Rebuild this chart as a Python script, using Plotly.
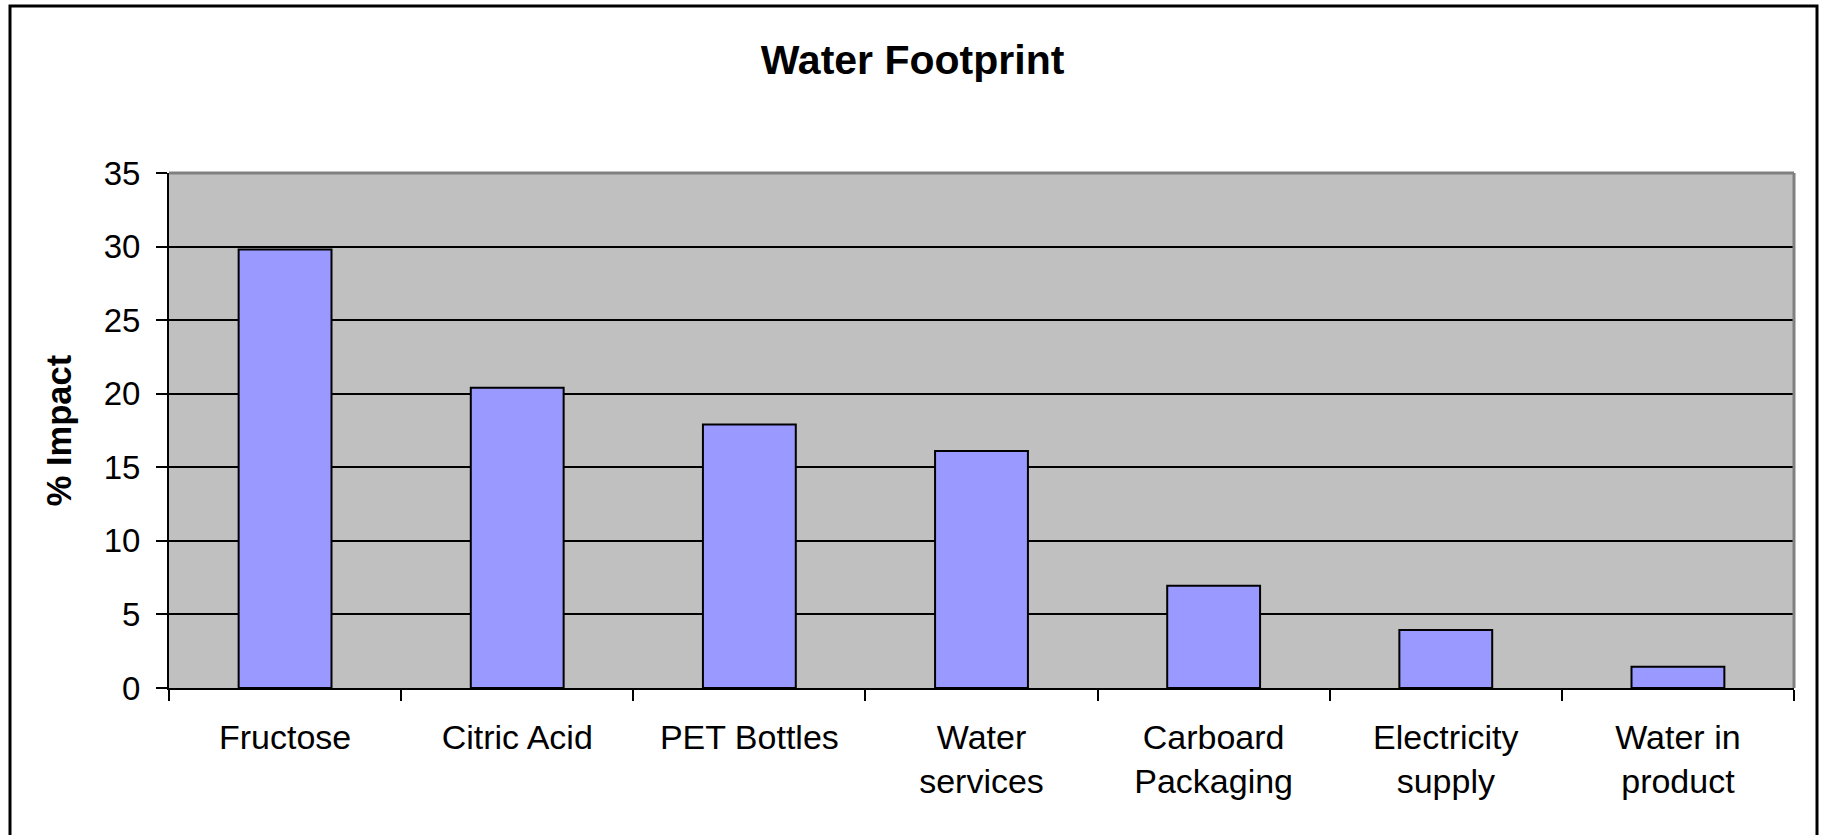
import plotly.graph_objects as go

categories = ["Fructose", "Citric Acid", "PET Bottles", "Water<br>services",
              "Carboard<br>Packaging", "Electricity<br>supply", "Water in<br>product"]
impact = [29.8, 20.4, 17.9, 16.1, 6.95, 3.95, 1.45]
y_ticks = [0, 5, 10, 15, 20, 25, 30, 35]

W, H = 1825, 835
L, R, T, B = 169, 31, 173, 147
pw, ph = W - L - R, H - T - B

def px_x(p):
    return (p - L) / pw

def px_y(p):
    return 1 - (p - T) / ph

FONT = "Liberation Sans, Arial, sans-serif"

fig = go.Figure(go.Bar(
    x=categories, y=impact,
    marker=dict(color="#9999FF", line=dict(color="black", width=2)),
))

fig.update_layout(
    width=W, height=H,
    margin=dict(l=L, r=R, t=T, b=B, autoexpand=False),
    paper_bgcolor="white", plot_bgcolor="#C0C0C0",
    bargap=0.6, showlegend=False,
    font=dict(family=FONT, size=33, color="black"),
    title=dict(text="Water Footprint", x=0.5, xref="container", xanchor="center",
               y=1 - 60 / H, yref="container", yanchor="middle",
               font=dict(family=FONT, size=41, weight=700, color="black")),
    xaxis=dict(showline=True, linecolor="black", linewidth=2,
               ticks="outside", tickson="boundaries", ticklen=11, tickwidth=2,
               tickcolor="black", showgrid=False,
               tickfont=dict(family=FONT, size=34, color="black"),
               ticklabelstandoff=18),
    yaxis=dict(range=[0, 35], tickvals=y_ticks, showline=True, linecolor="black",
               linewidth=2, ticks="outside", ticklen=11, tickwidth=2, tickcolor="black",
               showgrid=True, gridcolor="black", gridwidth=2, zeroline=False,
               tickfont=dict(family=FONT, size=33, color="black"),
               ticklabelstandoff=9,
               title=dict(text="% Impact", standoff=22,
                          font=dict(family=FONT, size=34.5, weight=700, color="black"))),
    shapes=[
        dict(type="line", xref="paper", yref="paper", x0=0, x1=1, y0=1, y1=1,
             line=dict(color="#808080", width=3), layer="above"),
        dict(type="line", xref="paper", yref="paper", x0=1, x1=1, y0=0, y1=1,
             line=dict(color="#808080", width=3), layer="above"),
        dict(type="rect", xref="paper", yref="paper",
             x0=px_x(10), x1=px_x(1817), y0=px_y(860), y1=px_y(6),
             line=dict(color="black", width=3), fillcolor="rgba(0,0,0,0)", layer="above"),
    ],
)

fig.write_html("out.html", config={"displayModeBar": False},
               post_script="document.body.style.margin='0';")
